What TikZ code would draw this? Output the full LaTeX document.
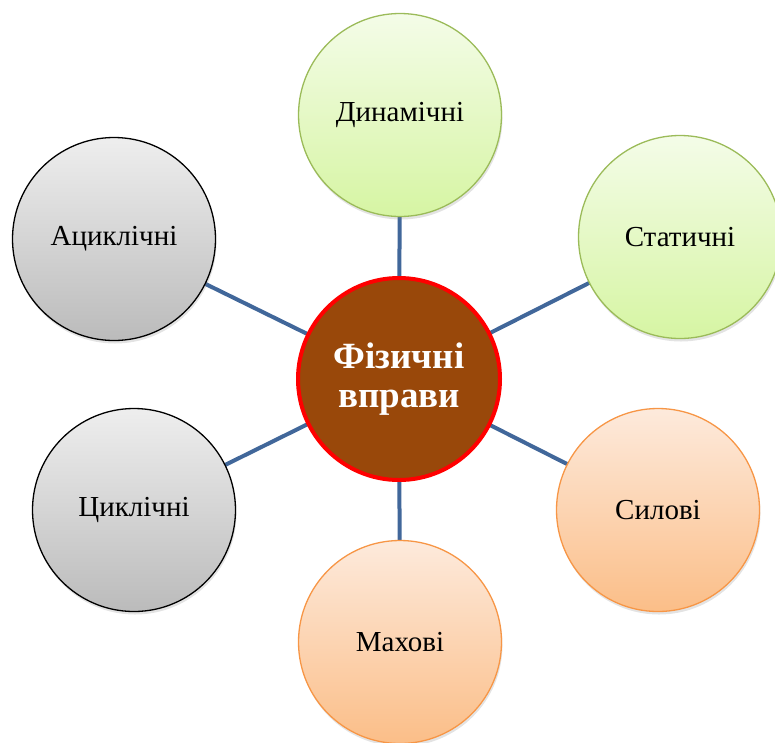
\documentclass[tikz,border=0pt]{standalone}
\usepackage{fontspec}
\setmainfont{Liberation Serif}
\usetikzlibrary{shadows}
\definecolor{linkblue}{HTML}{41679A}
\definecolor{hubfill}{HTML}{99480A}
\definecolor{greenline}{HTML}{9BBB59}
\definecolor{greentop}{HTML}{F4FCE8}
\definecolor{greenbot}{HTML}{D6F5A3}
\definecolor{orangeline}{HTML}{F79646}
\definecolor{orangetop}{HTML}{FDEADC}
\definecolor{orangebot}{HTML}{FBBE88}
\definecolor{graytop}{HTML}{EEEEEE}
\definecolor{graybot}{HTML}{BBBBBB}
\tikzset{
  bubble/.style={circle, minimum size=203pt, inner sep=0pt, line width=1.3pt,
    font=\fontsize{29}{34}\selectfont, text=black,
    drop shadow={opacity=0.22, shadow xshift=1pt, shadow yshift=-3pt}},
  greenb/.style={bubble, draw=greenline, top color=greentop, bottom color=greenbot},
  orangeb/.style={bubble, draw=orangeline, top color=orangetop, bottom color=orangebot},
  grayb/.style={bubble, draw=black, top color=graytop, bottom color=graybot},
  hub/.style={circle, minimum size=202pt, inner sep=0pt, line width=4pt,
    draw=red, fill=hubfill, text=white, align=center,
    font=\bfseries\fontsize{37}{39}\selectfont},
  link/.style={draw=linkblue, line width=4pt}
}
\begin{document}
\begin{tikzpicture}[x=1pt,y=-1pt]
\useasboundingbox (0,0) rectangle (775,742);
\clip (0,0) rectangle (775,742);
\coordinate (hc) at (399,379);
\coordinate (dc) at (400,115);
\coordinate (sc) at (680,237);
\coordinate (fc) at (658,510);
\coordinate (mc) at (400,642);
\coordinate (cc) at (134,510);
\coordinate (ac) at (114,239);
\draw[link] (hc) -- (dc);
\draw[link] (hc) -- (sc);
\draw[link] (hc) -- (fc);
\draw[link] (hc) -- (mc);
\draw[link] (hc) -- (cc);
\draw[link] (hc) -- (ac);
\node[greenb] (dyn) at (dc) {Динамічні};
\node[greenb] (stat) at (sc) {Статичні};
\node[orangeb] (sil) at (fc) {Силові};
\node[orangeb] (mah) at (mc) {Махові};
\node[grayb] (cyc) at (cc) {Циклічні};
\node[grayb] (acyc) at (ac) {Ациклічні};
\node[hub] (hub) at (hc) {Фізичні\\вправи};
\end{tikzpicture}
\end{document}
